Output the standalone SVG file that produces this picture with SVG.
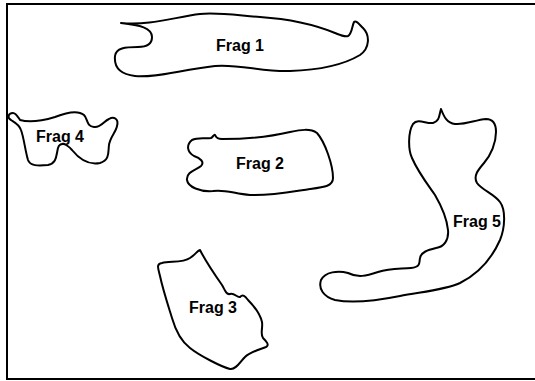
<svg xmlns="http://www.w3.org/2000/svg" width="535" height="381" viewBox="0 0 535 381">
<style>
.frag{fill:none;stroke:#000;stroke-width:2;stroke-linejoin:round}
.lbl{font-family:"Liberation Sans",Arial,sans-serif;font-weight:bold;font-size:16px;fill:#000;text-anchor:middle}
</style>
<rect x="0" y="0" width="535" height="381" fill="#fff"/>
<rect x="7" y="4" width="540" height="375" fill="none" stroke="#000" stroke-width="2"/>
<g id="frag1">
<path class="frag" d="M 121,23 C 140,25 152,28 152,37 C 152,45 146,47 138,47 C 125,47 116,48 115,56 C 114,66 118,74 135,76 C 155,78 180,70 215,66 C 240,64 262,72 290,71 C 320,70 345,64 360,55 C 370,48 370,35 363,28 C 359,24 356,20 354,22 C 352,26 352,34 348,36 C 344,37 340,35 335,33 C 318,26 290,19 260,17 C 235,15 215,12 200,14 C 175,17 150,26 121,23 Z"/>
<text class="lbl" x="240" y="51">Frag 1</text>
</g>
<g id="frag2">
<path class="frag" d="M 211,138 C 213,137 214,134 215,135 C 216,137 217,139 222,139 C 240,139 265,138 290,132 C 300,130 310,128 317,133 C 325,142 333,165 333,178 C 333,186 325,187 310,189 C 290,192 270,196 250,195 C 235,194 225,189 213,191 C 200,192 188,187 187,180 C 186,172 196,170 201,166 C 205,162 200,158 194,156 C 187,152 186,145 192,140 C 198,137 205,139 211,138 Z"/>
<text class="lbl" x="260" y="169">Frag 2</text>
</g>
<g id="frag3">
<path class="frag" d="M 200,250 C 205,260 215,275 222,285 C 225,290 226,295 230,294 C 234,292 237,298 240,297 C 243,294 245,296 248,300 C 254,306 260,314 262,322 C 263,328 260,334 263,338 C 266,341 270,345 266,347 C 258,350 250,352 245,357 C 240,362 236,370 230,369 C 222,367 200,356 190,348 C 182,342 176,332 172,318 C 168,305 163,290 160,276 C 158,268 156,264 162,263 C 170,261 183,263 190,258 C 195,255 198,250 200,250 Z"/>
<text class="lbl" x="213" y="313">Frag 3</text>
</g>
<g id="frag4">
<path class="frag" d="M 20,120 C 30,123 45,120 55,117 C 65,113 78,110 84,115 C 88,119 86,126 94,127 C 101,128 104,121 109,119 C 114,116 119,119 117,126 C 116,132 110,137 109,145 C 108,152 110,160 100,163 C 90,165 80,160 72,150 C 66,143 60,142 58,148 C 56,156 57,163 48,165 C 38,166 30,166 28,160 C 25,150 24,138 21,130 C 19,124 14,122 11,120 C 7,118 8,113 13,113 C 16,113 18,117 20,120 Z"/>
<text class="lbl" x="60" y="142">Frag 4</text>
</g>
<g id="frag5">
<path class="frag" d="M 441,109 C 439,115 440,121 433,123 C 426,124 418,118 413,124 C 408,132 408,150 412,158 C 418,172 428,185 435,195 C 442,207 447,220 448,230 C 449,240 444,247 436,248 C 428,250 421,252 420,258 C 419,263 421,267 411,268 C 400,269 390,268 378,272 C 366,276 358,278 348,273 C 338,270 325,272 321,280 C 318,289 324,297 335,300 C 350,303 375,301 400,296 C 420,292 445,290 460,283 C 478,274 492,258 500,240 C 505,228 506,210 500,202 C 494,194 482,190 477,183 C 473,176 478,170 484,163 C 491,155 496,143 496,132 C 496,123 492,119 486,119 C 475,120 465,125 455,124 C 447,123 444,117 441,109 Z"/>
<text class="lbl" x="477" y="227">Frag 5</text>
</g>
<g id="connectors"/>
</svg>
